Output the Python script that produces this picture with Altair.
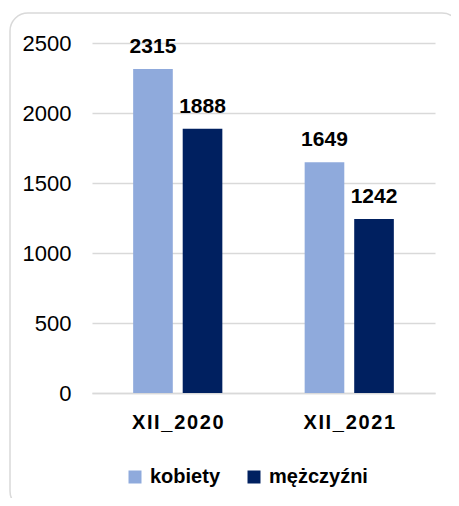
import altair as alt
import pandas as pd

categories = ["XII_2020", "XII_2021"]
series = ["kobiety", "mężczyźni"]
kobiety = [2315, 1649]
mezczyzni = [1888, 1242]
colors = ["#8FAADC", "#002060"]

rows = []
for i, c in enumerate(categories):
    rows.append({"okres": c, "plec": series[0], "wartosc": kobiety[i]})
    rows.append({"okres": c, "plec": series[1], "wartosc": mezczyzni[i]})
df = pd.DataFrame(rows)

FONT = "Liberation Sans, Arial, sans-serif"

base = alt.Chart(df).encode(
    x=alt.X("okres:N", sort=categories,
            scale=alt.Scale(paddingInner=0.48, paddingOuter=0.24),
            axis=alt.Axis(title=None, labelAngle=0, ticks=False, domain=True,
                          domainColor="#D9D9D9", domainWidth=1.5,
                          labelFont=FONT, labelFontSize=20, labelFontWeight="bold",
                          labelColor="#000000", labelPadding=19,
                          labelExpr="join(split(datum.label, ''), '\u200a')")),
    xOffset=alt.XOffset("plec:N", sort=series,
                        scale=alt.Scale(paddingInner=0.2, paddingOuter=0)),
    y=alt.Y("wartosc:Q", scale=alt.Scale(domain=[0, 2500]),
            axis=alt.Axis(title=None, values=[0, 500, 1000, 1500, 2000, 2500],
                          format="d", ticks=False, domain=False, gridColor="#D9D9D9",
                          gridWidth=1.5, labelFont=FONT, labelFontSize=22,
                          labelColor="#000000", labelPadding=21)),
)

bars = base.mark_bar().encode(
    color=alt.Color("plec:N", sort=series,
                    scale=alt.Scale(domain=series, range=colors),
                    legend=alt.Legend(title=None, orient="none", direction="horizontal",
                                      legendX=33, legendY=424,
                                      symbolType="square", symbolSize=169,
                                      symbolStrokeWidth=0, symbolOpacity=1,
                                      labelFont=FONT, labelFontSize=20,
                                      labelFontWeight="bold", labelColor="#000000",
                                      labelOffset=5, columnPadding=23))
)

labels = base.mark_text(font=FONT, fontSize=21, fontWeight="bold", color="#000000",
                        baseline="alphabetic", dy=-16).encode(text="wartosc:Q")

frame = alt.Chart(pd.DataFrame({"f": [0]})).mark_rect(
    fill=None, stroke="#D9D9D9", strokeWidth=1.5, cornerRadius=18
).encode(x=alt.value(-82), y=alt.value(-30), x2=alt.value(368), y2=alt.value(466))

chart = alt.layer(frame, bars, labels).properties(
    width=343, height=350,
    autosize=alt.AutoSizeParams(type="none"),
    padding={"left": 84, "top": 35, "right": 16, "bottom": 105},
).configure_view(stroke=None)

chart.save("out.html", embed_options={"renderer": "svg", "actions": False})
